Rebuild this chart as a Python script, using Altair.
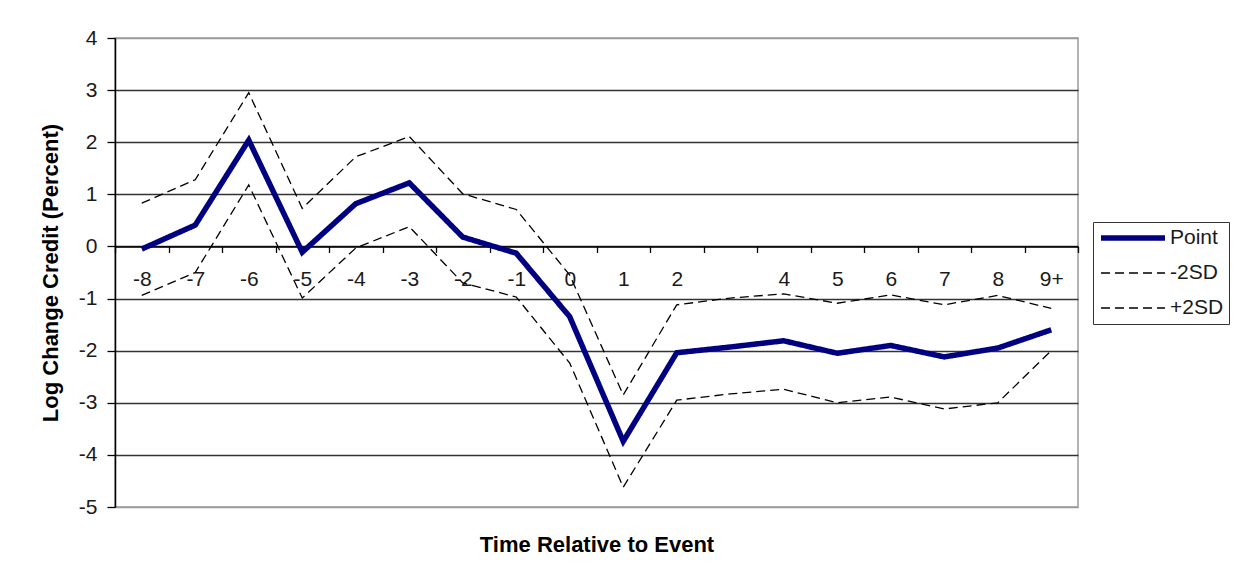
import altair as alt
import pandas as pd

# ---- data ----
periods = ["-8", "-7", "-6", "-5", "-4", "-3", "-2", "-1", "0", "1",
           "2", "3", "4", "5", "6", "7", "8", "9+"]
point = [-0.05, 0.41, 2.04, -0.11, 0.82, 1.22, 0.18, -0.13, -1.35, -3.74,
         -2.04, -1.93, -1.81, -2.05, -1.90, -2.12, -1.95, -1.60]
minus_2sd = [-0.94, -0.50, 1.18, -0.99, -0.03, 0.38, -0.70, -0.97, -2.24, -4.62,
             -2.95, -2.83, -2.74, -3.00, -2.89, -3.12, -3.00, -2.00]
plus_2sd = [0.83, 1.28, 2.95, 0.73, 1.72, 2.11, 1.01, 0.71, -0.55, -2.85,
            -1.12, -0.99, -0.91, -1.09, -0.93, -1.12, -0.94, -1.19]
series_names = ["Point", "-2SD", "+2SD"]
y_ticks = [-5, -4, -3, -2, -1, 0, 1, 2, 3, 4]

rows = []
for name, vals in zip(series_names, [point, minus_2sd, plus_2sd]):
    for p, v in zip(periods, vals):
        rows.append({"period": p, "value": v, "series": name})
df = pd.DataFrame(rows)

FONT = "Liberation Sans"
W, H = 963, 469
Y_MIN, Y_MAX = -5, 4
zero_offset = -H * (0 - Y_MIN) / (Y_MAX - Y_MIN)

legend = alt.Legend(
    title=None, orient="none", legendX=978, legendY=184,
    symbolType="stroke", symbolSize=4096, labelFont=FONT, labelFontSize=21,
    labelColor="#1a1a1a", labelOffset=2, padding=5, clipHeight=22, rowPadding=13,
    strokeColor="#333333", fillColor="white",
)

x_enc = alt.X(
    "period:O", sort=periods,
    scale=alt.Scale(type="band", paddingInner=0, paddingOuter=0),
    axis=alt.Axis(
        title="Time Relative to Event", orient="bottom", offset=zero_offset,
        tickBand="extent", tickSize=6, tickColor="#000", tickWidth=1.3,
        domainColor="#000", domainWidth=1.5, labelAngle=0,
        labelExpr="datum.value == '3' ? '' : datum.value",
        labelFont=FONT, labelFontSize=21, labelColor="#1a1a1a", labelPadding=16,
        titleFont=FONT, titleFontSize=22, titleFontWeight="bold", titleColor="#000",
        titleY=298, titleBaseline="middle", grid=False,
    ),
)
y_enc = alt.Y(
    "value:Q",
    scale=alt.Scale(domain=[Y_MIN, Y_MAX], nice=False, zero=False),
    axis=alt.Axis(
        title="Log Change Credit (Percent)", values=y_ticks,
        labelExpr="'' + datum.value",
        tickSize=8, tickColor="#000", tickWidth=1.3,
        domainColor="#000", domainWidth=1.5,
        labelFont=FONT, labelFontSize=21, labelColor="#1a1a1a", labelPadding=10,
        titleFont=FONT, titleFontSize=22, titleFontWeight="bold", titleColor="#000",
        titlePadding=16,
        grid=True, gridWidth=1.4,
        gridColor={"condition": {"test": "datum.value == 4 || datum.value == -5",
                                 "value": "#9a9a9a"}, "value": "#333333"},
    ),
)
color_enc = alt.Color("series:N", sort=series_names,
                      scale=alt.Scale(domain=series_names, range=["#000080", "#000000", "#000000"]),
                      legend=legend)
dash_enc = alt.StrokeDash("series:N", sort=series_names,
                          scale=alt.Scale(domain=series_names, range=[[1, 0], [9, 5], [9, 5]]),
                          legend=legend)
width_enc = alt.StrokeWidth("series:N", sort=series_names,
                            scale=alt.Scale(type="ordinal", domain=series_names,
                                            range=[5.5, 1.3, 1.3]),
                            legend=legend)

base = alt.Chart(df).encode(x=x_enc, y=y_enc, color=color_enc,
                            strokeDash=dash_enc, strokeWidth=width_enc)

bands = base.mark_line().transform_filter(alt.datum.series != "Point")
main = base.mark_line(strokeJoin="miter").transform_filter(alt.datum.series == "Point")

chart = alt.layer(bands, main).properties(
    width=W, height=H,
    autosize=alt.AutoSizeParams(type="none"),
    padding={"left": 107, "top": 30, "right": 158, "bottom": 72},
    background="white",
).configure_view(stroke="#9a9a9a", strokeWidth=1.5)

chart.save("out.html", embed_options={"renderer": "svg", "actions": False})
